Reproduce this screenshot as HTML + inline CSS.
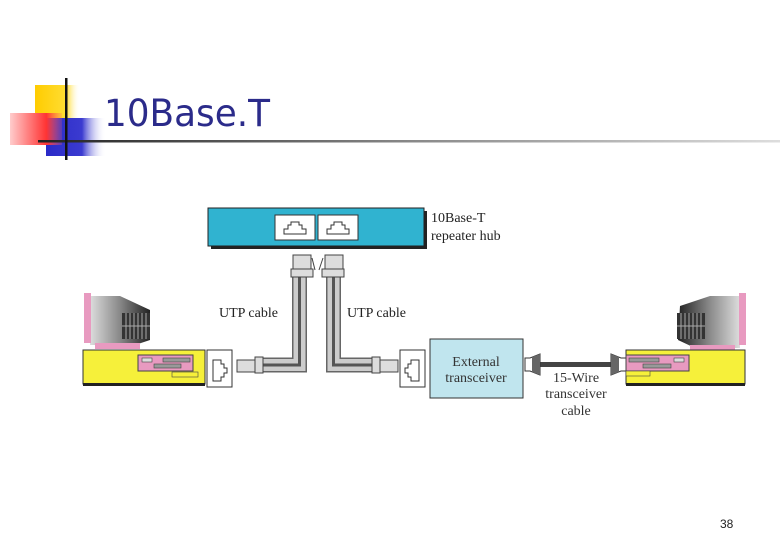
<!DOCTYPE html>
<html><head><meta charset="utf-8"><style>
html,body{margin:0;padding:0;background:#fff;}
svg{display:block;}
</style></head><body>
<svg width="780" height="540" viewBox="0 0 780 540" xmlns="http://www.w3.org/2000/svg" font-family="Liberation Serif, serif">
<defs>
<linearGradient id="hl" x1="0" x2="1"><stop offset="0" stop-color="#222"/><stop offset="0.5" stop-color="#888"/><stop offset="1" stop-color="#ddd"/></linearGradient>
<linearGradient id="red" x1="0" x2="1"><stop offset="0" stop-color="#fcc"/><stop offset="0.7" stop-color="#f33"/><stop offset="1" stop-color="#f66" stop-opacity="0.2"/></linearGradient>
<linearGradient id="blue" x1="0" x2="1"><stop offset="0" stop-color="#2a2ac8"/><stop offset="0.6" stop-color="#3b3bd0"/><stop offset="1" stop-color="#fff" stop-opacity="0"/></linearGradient>
<linearGradient id="yel" x1="0" x2="1"><stop offset="0" stop-color="#fc0"/><stop offset="0.7" stop-color="#fd3"/><stop offset="1" stop-color="#fff" stop-opacity="0"/></linearGradient>
<linearGradient id="mon" x1="0" x2="1"><stop offset="0" stop-color="#ddd"/><stop offset="0.5" stop-color="#888"/><stop offset="1" stop-color="#222"/></linearGradient>
<linearGradient id="mon2" x1="1" x2="0"><stop offset="0" stop-color="#ddd"/><stop offset="0.5" stop-color="#888"/><stop offset="1" stop-color="#222"/></linearGradient>
</defs>
<rect x="35" y="85" width="45" height="35" fill="url(#yel)"/>
<rect x="46" y="118" width="60" height="38" fill="url(#blue)"/>
<rect x="10" y="113" width="52" height="32" fill="url(#red)"/>
<rect x="38" y="140" width="742" height="2.5" fill="url(#hl)"/>
<rect x="65" y="78" width="2.5" height="82" fill="#111"/>
<text x="104" y="126" font-family="DejaVu Sans, sans-serif" font-size="37" fill="#2b2b8a" textLength="166" lengthAdjust="spacingAndGlyphs">10Base.T</text>
<!-- hub -->
<rect x="211" y="211" width="216" height="38" fill="#222"/>
<rect x="208" y="208" width="216" height="38" fill="#30b3d0" stroke="#222" stroke-width="1"/>
<rect x="275" y="215" width="40" height="25" fill="#fff" stroke="#333"/>
<rect x="318" y="215" width="40" height="25" fill="#fff" stroke="#333"/>
<path d="M284 234 h22 v-5 h-4 v-4 h-3 v-3 h-8 v3 h-3 v4 h-4z" fill="none" stroke="#333"/>
<path d="M327 234 h22 v-5 h-4 v-4 h-3 v-3 h-8 v3 h-3 v4 h-4z" fill="none" stroke="#333"/>
<text x="431" y="222" font-size="14" fill="#222">10Base-T</text>
<text x="431" y="240" font-size="14" fill="#222">repeater hub</text>
<!-- cables -->
<g fill="none">
<path d="M299.5 277 V365 H262" stroke="#666" stroke-width="15"/>
<path d="M299.5 277 V365 H262" stroke="#ccc" stroke-width="12"/>
<path d="M299.5 277 V365 H262" stroke="#555" stroke-width="3"/>
<path d="M333.5 277 V365 H374" stroke="#666" stroke-width="15"/>
<path d="M333.5 277 V365 H374" stroke="#ccc" stroke-width="12"/>
<path d="M333.5 277 V365 H374" stroke="#555" stroke-width="3"/>
</g>
<rect x="293" y="255" width="18" height="14" fill="#ddd" stroke="#444"/>
<rect x="291" y="269" width="22" height="8" fill="#ddd" stroke="#444"/>
<rect x="325" y="255" width="18" height="14" fill="#ddd" stroke="#444"/>
<rect x="322" y="269" width="22" height="8" fill="#ddd" stroke="#444"/>
<line x1="312" y1="258" x2="315" y2="270" stroke="#444"/>
<line x1="323" y1="258" x2="319" y2="270" stroke="#444"/>
<rect x="255" y="357" width="8" height="16" fill="#ddd" stroke="#444"/>
<rect x="237" y="360" width="18" height="12" fill="#ddd" stroke="#444"/>
<rect x="372" y="357" width="8" height="16" fill="#ddd" stroke="#444"/>
<rect x="380" y="360" width="18" height="12" fill="#ddd" stroke="#444"/>
<text x="219" y="317" font-size="14" fill="#222">UTP cable</text>
<text x="347" y="317" font-size="14" fill="#222">UTP cable</text>
<!-- jacks -->
<rect x="207" y="350" width="25" height="37" fill="#fff" stroke="#333"/>
<path d="M213 360 h8 v4 h3 v4 h3 v5 h-3 v4 h-3 v4 h-8z" fill="none" stroke="#333"/>
<rect x="400" y="350" width="25" height="37" fill="#fff" stroke="#333"/>
<path d="M419 360 h-8 v4 h-3 v4 h-3 v5 h3 v4 h3 v4 h8z" fill="none" stroke="#333"/>
<!-- left PC -->
<path d="M90 296 L120 296 L150 310 L150 340 L135 345 L90 345z" fill="url(#mon)"/>
<rect x="84" y="293" width="7" height="50" fill="#e89ac0"/>
<rect x="122" y="313" width="28" height="26" fill="#333"/>
<g stroke="#aaa" stroke-width="1"><line x1="126" y1="313" x2="126" y2="339"/><line x1="130" y1="313" x2="130" y2="339"/><line x1="134" y1="313" x2="134" y2="339"/><line x1="138" y1="313" x2="138" y2="339"/><line x1="142" y1="313" x2="142" y2="339"/><line x1="146" y1="313" x2="146" y2="339"/><line x1="122" y1="326" x2="150" y2="326"/></g>
<rect x="95" y="343" width="45" height="6" fill="#e89ac0"/>
<rect x="83" y="350" width="122" height="34" fill="#f6f03a" stroke="#333"/>
<rect x="83" y="383" width="122" height="3" fill="#222"/>
<rect x="138" y="355" width="55" height="16" fill="#e89ac0" stroke="#444"/>
<rect x="142" y="358" width="10" height="4" fill="#ddd" stroke="#444" stroke-width=".6"/>
<rect x="163" y="358" width="27" height="4" fill="#999" stroke="#444" stroke-width=".6"/>
<rect x="154" y="364" width="27" height="4" fill="#999" stroke="#444" stroke-width=".6"/>
<rect x="172" y="372" width="26" height="5" fill="#f6f03a" stroke="#444" stroke-width=".6"/>
<!-- transceiver -->
<rect x="430" y="339" width="93" height="59" fill="#c0e5ee" stroke="#333"/>
<text x="476" y="366" font-size="14" text-anchor="middle" fill="#333">External</text>
<text x="476" y="382" font-size="14" text-anchor="middle" fill="#333">transceiver</text>
<rect x="540" y="362" width="72" height="5" fill="#444"/>
<path d="M525 358 h5 l10 -4 v21 l-10 -4 h-5z" fill="#fff" stroke="#333"/>
<path d="M532 357 l8 -3 v21 l-8 -3z" fill="#666"/>
<path d="M626 358 h-5 l-10 -4 v21 l10 -4 h5z" fill="#fff" stroke="#333"/>
<path d="M619 357 l-8 -3 v21 l8 -3z" fill="#666"/>
<text x="576" y="382" font-size="14" text-anchor="middle" fill="#333">15-Wire</text>
<text x="576" y="398" font-size="14" text-anchor="middle" fill="#333">transceiver</text>
<text x="576" y="415" font-size="14" text-anchor="middle" fill="#333">cable</text>
<!-- right PC -->
<path d="M740 296 L710 296 L680 306 L678 340 L695 348 L740 348z" fill="url(#mon2)"/>
<rect x="739" y="293" width="7" height="52" fill="#e89ac0"/>
<rect x="677" y="313" width="28" height="26" fill="#333"/>
<g stroke="#aaa" stroke-width="1"><line x1="681" y1="313" x2="681" y2="339"/><line x1="685" y1="313" x2="685" y2="339"/><line x1="689" y1="313" x2="689" y2="339"/><line x1="693" y1="313" x2="693" y2="339"/><line x1="697" y1="313" x2="697" y2="339"/><line x1="701" y1="313" x2="701" y2="339"/><line x1="677" y1="326" x2="705" y2="326"/></g>
<rect x="690" y="345" width="45" height="5" fill="#e89ac0"/>
<rect x="626" y="350" width="119" height="34" fill="#f6f03a" stroke="#333"/>
<rect x="626" y="383" width="119" height="3" fill="#222"/>
<rect x="626" y="355" width="63" height="16" fill="#e89ac0" stroke="#444"/>
<rect x="629" y="358" width="30" height="4" fill="#999" stroke="#444" stroke-width=".6"/>
<rect x="674" y="358" width="10" height="4" fill="#ddd" stroke="#444" stroke-width=".6"/>
<rect x="643" y="364" width="28" height="4" fill="#999" stroke="#444" stroke-width=".6"/>
<rect x="626" y="371" width="24" height="5" fill="#f6f03a" stroke="#444" stroke-width=".6"/>
<text x="720" y="528" font-family="Liberation Sans, sans-serif" font-size="12" fill="#222">38</text>
</svg>
</body></html>
